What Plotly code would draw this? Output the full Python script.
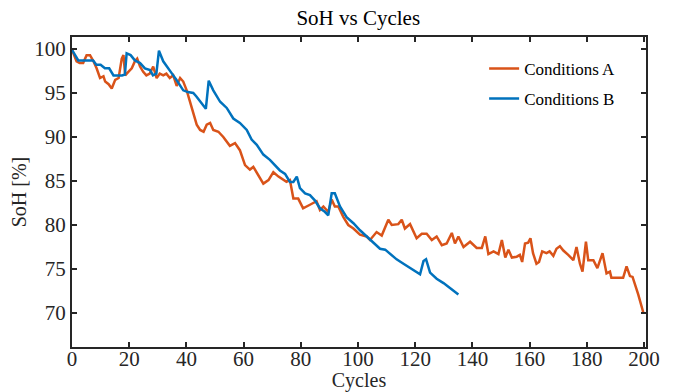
import plotly.graph_objects as go

# Conditions A (orange)
cycles_a = [0, 1.6, 2.7, 3.9, 5.1, 6.3, 7.5, 8.6, 9.8, 11.0, 11.6, 12.8, 13.9, 15.1, 16.3, 17.4, 18.0, 18.6,
            19.7, 20.9, 22.0, 22.8, 23.8, 24.9, 26.0, 27.2, 28.4, 29.6, 30.7, 31.9, 33.0, 34.2, 35.4, 36.6,
            37.8, 38.9, 40.1, 41.3, 42.4, 43.6, 44.8, 46.0, 47.1, 48.3, 49.4, 51.2, 52.9, 55.2, 57.0, 58.7,
            60.5, 62.2, 63.4, 65.2, 66.9, 68.7, 70.4, 72.2, 73.9, 75.0, 76.2, 77.4, 79.1, 80.8, 83.2, 85.5,
            86.7, 87.9, 89.6, 90.8, 91.9, 93.1, 94.9, 96.6, 98.4, 100.7, 103.0, 104.2, 106.5, 108.3, 110.6,
            111.8, 114.1, 115.3, 116.4, 118.2, 120.5, 122.3, 124.0, 125.8, 127.5, 129.3, 131.0, 132.8, 133.9,
            135.1, 136.9, 139.2, 141.5, 143.3, 144.5, 145.6, 147.4, 149.1, 150.3, 151.5, 152.6, 153.8, 155.5,
            156.6, 157.4, 158.4, 159.5, 160.3, 161.2, 162.4, 163.3, 164.4, 165.9, 167.0, 168.3, 169.4, 170.6,
            171.8, 173.5, 175.3, 176.4, 177.6, 178.5, 179.7, 180.5, 182.3, 183.7, 185.5, 186.9, 188.1, 188.6,
            190.4, 192.7, 193.9, 195.1, 196.0, 198.0, 199.8]
soh_a = [99.9, 98.6, 98.4, 98.4, 99.3, 99.3, 98.6, 97.8, 96.7, 96.9, 96.3, 96.0, 95.5, 96.5, 96.7, 98.9, 99.3, 97.0,
         97.4, 97.8, 98.6, 98.9, 98.0, 97.4, 97.0, 97.2, 98.0, 96.7, 97.2, 97.0, 97.2, 96.7, 97.0, 95.8,
         96.7, 96.3, 95.3, 93.9, 92.5, 91.4, 90.8, 90.6, 91.4, 91.6, 90.8, 90.6, 90.0, 89.0, 89.3, 88.5,
         86.8, 86.3, 86.6, 85.7, 84.7, 85.1, 86.0, 85.5, 85.1, 84.9, 85.1, 83.0, 83.0, 81.9, 82.3, 82.7,
         81.7, 82.1, 81.5, 82.9, 82.1, 82.1, 80.9, 80.0, 79.6, 78.9, 78.7, 78.3, 79.2, 78.8, 80.6,
         80.0, 80.1, 80.6, 79.6, 80.1, 78.5, 79.0, 79.0, 78.3, 78.7, 77.7, 77.9, 79.1, 77.9,
         78.7, 77.5, 78.1, 77.4, 77.4, 78.7, 76.7, 77.0, 76.7, 78.3, 76.3, 77.2, 76.3, 76.4,
         76.6, 75.8, 77.9, 78.0, 78.5, 76.8, 75.6, 75.8, 77.0, 76.8, 77.0, 76.5, 77.3, 77.6,
         77.1, 76.6, 76.0, 77.5, 75.6, 74.7, 78.1, 76.0, 76.0, 75.1, 76.8, 74.5, 74.7, 74.0,
         74.0, 74.0, 75.3, 74.2, 74.1, 72.1, 70.0]

# Conditions B (blue)
cycles_b = [0, 2.2, 4.0, 7.4, 8.5, 10.0, 11.5, 13.0, 14.5, 17.5, 18.5, 19.1, 20.5, 22.0, 23.8, 25.5, 27.3, 28.3,
            29.5, 30.4, 31.9, 33.5, 35.4, 36.5, 37.8, 38.9, 40.5, 42.4, 43.5, 44.8, 46.8, 47.8, 49.4, 51.8,
            54.1, 56.4, 58.7, 61.1, 62.8, 64.6, 66.9, 69.2, 71.6, 72.7, 74.5, 76.2, 77.4, 78.6, 79.7, 81.5,
            83.2, 84.9, 86.7, 88.4, 89.6, 90.8, 91.9, 93.7, 96.0, 98.4, 100.7, 103.0, 105.4, 107.7, 109.5,
            111.2, 113.5, 115.9, 118.2, 119.4, 121.7, 122.9, 123.8, 125.2, 127.5, 129.9, 132.2, 134.0, 135.1]
soh_b = [99.9, 98.7, 98.7, 98.7, 98.2, 98.2, 97.8, 97.8, 97.0, 97.0, 97.1, 99.5, 99.3, 98.7, 98.4, 97.8, 97.6, 97.0,
         97.2, 99.8, 98.6, 97.8, 97.0, 96.5, 95.9, 95.3, 95.1, 95.0, 94.6, 94.1, 93.2, 96.4, 95.3, 94.0,
         93.3, 92.1, 91.6, 90.8, 89.7, 89.1, 88.0, 87.4, 86.6, 86.2, 85.8, 84.9, 84.9, 85.5, 84.2, 83.6,
         83.4, 82.8, 81.9, 81.5, 81.1, 83.6, 83.6, 82.1, 80.9, 80.2, 79.4, 78.7, 77.9, 77.3, 77.2,
         76.7, 76.1, 75.6, 75.1, 74.8, 74.4, 75.9, 76.1, 74.6, 73.9, 73.4, 72.8, 72.4, 72.1]

x_ticks = [0, 20, 40, 60, 80, 100, 120, 140, 160, 180, 200]
y_ticks = [70, 75, 80, 85, 90, 95, 100]

FONT = "Liberation Serif"
AX = "#262626"

fig = go.Figure()
fig.add_trace(go.Scatter(x=cycles_a, y=soh_a, mode="lines", name="Conditions A",
                         legendgroup="a", line=dict(color="#D95319", width=2.5)))
fig.add_trace(go.Scatter(x=cycles_b, y=soh_b, mode="lines", name="Conditions B",
                         legendgroup="b", line=dict(color="#0072BD", width=2.5)))

axis_common = dict(showline=True, linecolor=AX, linewidth=2, mirror="ticks", ticks="inside",
                   ticklen=5, tickwidth=1.5, tickcolor=AX, showgrid=False, zeroline=False,
                   automargin=False,
                   tickfont=dict(family=FONT, size=21, color="#262626"))

fig.update_xaxes(range=[0, 200.7], tickvals=x_ticks, ticklabelstandoff=-8,
                 title=dict(text="Cycles", font=dict(family=FONT, size=20, color="#262626"), standoff=6),
                 **axis_common)
fig.update_yaxes(range=[66.14, 101.36], tickvals=y_ticks,
                 title=dict(text="SoH [%]", font=dict(family=FONT, size=20, color="#262626"), standoff=2),
                 **axis_common)

fig.update_layout(
    width=676, height=392,
    margin=dict(l=72, r=30, t=37, b=45),
    paper_bgcolor="white", plot_bgcolor="white",
    title=dict(text="SoH vs Cycles", x=0.53, xanchor="center", y=1 - 18 / 392, yanchor="middle",
               font=dict(family=FONT, size=21, color="#000000")),
    legend=dict(x=0.718, y=0.955, xanchor="left", yanchor="top", bgcolor="rgba(0,0,0,0)",
                font=dict(family=FONT, size=17, color="#000000"), traceorder="grouped",
                tracegroupgap=5),
    showlegend=True,
)

fig.write_html("out.html")
